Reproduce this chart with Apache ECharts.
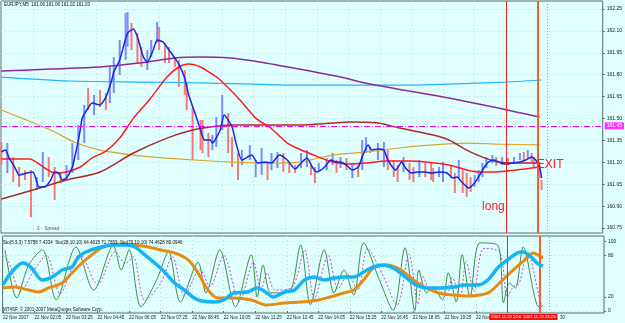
<!DOCTYPE html>
<html>
<head>
<meta charset="utf-8">
<script src="https://cdn.jsdelivr.net/npm/echarts@6/dist/echarts.min.js"></script>
<style>
  html, body { margin: 0; padding: 0; background: #e0ffff; }
  #chart { width: 625px; height: 323px; }
</style>
</head>
<body>
<div id="chart"></div>
<script>
// time axis: minutes since 00:00, 22 Nov 2007, M5 bars
const timeTicks = [45, 125, 205, 285, 365, 445, 525, 605, 685, 765, 845, 925, 1005, 1085, 1165, 1245];
const timeLabels = ['22 Nov 2007', '22 Nov 02:05', '22 Nov 03:25', '22 Nov 04:45', '22 Nov 06:05',
  '22 Nov 07:25', '22 Nov 08:45', '22 Nov 10:05', '22 Nov 11:25', '22 Nov 12:45', '22 Nov 14:05',
  '22 Nov 15:25', '22 Nov 16:45', '22 Nov 18:05', '22 Nov 19:25', '22 Nov 20:45'];
const priceTicks = [160.75, 160.90, 161.05, 161.20, 161.35, 161.50, 161.65, 161.80, 161.95, 162.10, 162.25];
const stoTicks = [0, 20, 80, 100];

// entry / exit markers (minutes) and their labels
const tradeLines = [1325, 1406];
const tradeLabels = ['2007.11.22 22:05', '2007.11.22 23:25'];
const shiftLine = 1430;
const levelLine = 161.45;
const lastPrice = 161.03;

// price bars: [time, high, low, up?]
const priceBars = [
  [45,161.339,161.181,0],[60,161.332,161.127,1],[75,161.236,161.065,0],[90,161.168,161.031,0],
  [105,161.147,161.079,0],[120,161.147,160.825,0],[135,161.099,161.010,1],[150,161.271,161.065,1],
  [165,161.236,161.099,0],[180,161.168,160.942,0],[195,161.127,161.058,0],[210,161.181,161.079,1],
  [225,161.332,161.127,1],[240,161.456,161.216,1],[255,161.593,161.332,1],[265,161.709,161.558,0],
  [280,161.661,161.524,1],[295,161.695,161.579,0],[310,161.675,161.558,0],[320,161.853,161.606,1],
  [330,161.921,161.675,1],[345,162.038,161.798,1],[360,162.223,161.901,1],[365,162.229,161.990,1],
  [375,162.154,161.969,0],[390,162.085,161.880,0],[400,161.990,161.853,0],[415,161.969,161.832,1],
  [425,162.038,161.921,1],[440,162.161,162.017,1],[445,162.127,161.969,0],[460,162.017,161.880,0],
  [470,161.990,161.880,0],[485,161.921,161.853,0],[495,161.901,161.716,0],[510,161.832,161.661,0],
  [515,161.743,161.558,0],[530,161.579,161.216,0],[550,161.490,161.284,0],[555,161.490,161.264,0],
  [570,161.401,161.236,0],[580,161.387,161.284,1],[590,161.510,161.305,1],[605,161.661,161.421,1],
  [620,161.538,161.264,0],[630,161.373,161.168,0],[645,161.264,161.079,0],[655,161.284,161.181,1],
  [675,161.318,161.216,1],[690,161.216,161.099,1],[705,161.298,161.113,1],[720,161.202,161.079,0],
  [730,161.264,161.147,1],[745,161.271,161.161,1],[760,161.264,161.134,0],[775,161.195,161.127,0],
  [790,161.181,161.127,0],[805,161.264,161.161,1],[820,161.284,161.168,1],[830,161.181,161.113,0],
  [840,161.168,161.058,0],[850,161.195,161.134,1],[870,161.229,161.147,1],[885,161.264,161.181,1],
  [895,161.216,161.127,0],[905,161.236,161.161,1],[920,161.229,161.147,0],[935,161.195,161.092,1],
  [950,161.181,161.099,0],[960,161.353,161.147,1],[970,161.373,161.264,1],[980,161.305,161.264,0],
  [1000,161.332,161.216,1],[1015,161.339,161.168,1],[1025,161.284,161.147,0],[1040,161.216,161.099,0],
  [1050,161.181,161.065,0],[1065,161.236,161.134,1],[1080,161.195,161.079,0],[1090,161.168,161.065,0],
  [1105,161.216,161.099,1],[1120,161.195,161.099,0],[1135,161.195,161.079,0],[1140,161.161,161.065,0],
  [1155,161.168,161.099,1],[1165,161.202,161.065,1],[1185,161.181,161.092,0],[1195,161.127,160.990,0],
  [1205,161.216,161.092,1],[1215,161.147,160.990,0],[1225,161.127,160.962,0],[1235,161.099,160.997,0],
  [1245,161.113,161.031,1],[1255,161.147,161.065,1],[1265,161.195,161.099,1],[1275,161.236,161.161,1],
  [1290,161.250,161.195,1],[1300,161.236,161.175,0],[1315,161.236,161.181,1],[1330,161.229,161.181,0],
  [1345,161.236,161.202,1],[1360,161.264,161.216,1],[1370,161.271,161.216,0],[1380,161.284,161.229,1],
  [1390,161.264,161.202,0],[1395,161.236,161.168,0],[1410,161.202,161.092,0],[1415,161.079,161.010,0]
];

// moving averages: [time, price]
const blueMA = [
  [45,161.271],[55,161.284],[65,161.229],[80,161.161],[90,161.113],[110,161.127],[125,161.134],
  [135,161.065],[140,161.031],[155,161.031],[170,161.079],[180,161.134],[190,161.127],[200,161.079],
  [210,161.092],[225,161.168],[235,161.284],[245,161.421],[250,161.503],[265,161.572],[275,161.606],
  [295,161.593],[310,161.647],[325,161.764],[330,161.818],[345,161.901],[365,162.085],[380,162.113],
  [390,162.058],[405,161.921],[415,161.887],[430,161.969],[440,162.038],[455,162.024],[470,161.969],
  [485,161.914],[495,161.873],[510,161.777],[520,161.661],[535,161.545],[550,161.421],[560,161.353],
  [575,161.353],[580,161.332],[600,161.421],[610,161.524],[630,161.442],[640,161.332],[655,161.216],
  [680,161.250],[695,161.195],[715,161.202],[730,161.195],[750,161.250],[770,161.216],[790,161.154],
  [800,161.181],[820,161.229],[835,161.161],[845,161.134],[865,161.168],[880,161.216],[895,161.202],
  [905,161.202],[920,161.181],[935,161.147],[950,161.168],[960,161.236],[975,161.318],[985,161.284],
  [1000,161.291],[1015,161.284],[1025,161.216],[1045,161.147],[1060,161.202],[1070,161.161],
  [1085,161.127],[1100,161.134],[1120,161.134],[1135,161.127],[1155,161.134],[1175,161.127],
  [1190,161.092],[1200,161.099],[1215,161.058],[1230,161.024],[1245,161.058],[1255,161.099],
  [1270,161.168],[1280,161.202],[1295,161.216],[1305,161.202],[1325,161.188],[1340,161.195],
  [1360,161.202],[1375,161.216],[1390,161.236],[1400,161.216],[1410,161.168],[1415,161.092]
];
const redMA = [
  [45,161.223],[115,161.223],[155,161.161],[180,161.127],[210,161.134],[245,161.168],[275,161.230],
  [310,161.277],[345,161.366],[380,161.503],[420,161.627],[465,161.784],[495,161.853],[520,161.873],
  [550,161.853],[575,161.812],[600,161.764],[650,161.627],[690,161.503],[725,161.442],[770,161.332],
  [800,161.291],[850,161.236],[885,161.202],[925,161.188],[970,161.195],[1020,161.209],[1080,161.209],
  [1120,161.202],[1180,161.181],[1255,161.134],[1300,161.134],[1350,161.147],[1410,161.168]
];
const darkRedMA = [
  [45,160.949],[125,161.010],[210,161.079],[295,161.134],[380,161.264],[465,161.366],[530,161.421],
  [575,161.442],[630,161.456],[800,161.456],[885,161.469],[925,161.476],[1000,161.469],[1055,161.435],
  [1140,161.387],[1180,161.353],[1225,161.284],[1265,161.236],[1305,161.202],[1350,161.195],[1410,161.195]
];
const orangeMA = [
  [45,161.558],[90,161.510],[170,161.421],[235,161.332],[295,161.284],[380,161.250],[465,161.229],
  [575,161.209],[630,161.202],[715,161.195],[800,161.202],[885,161.250],[970,161.271],[1055,161.298],
  [1140,161.319],[1225,161.332],[1305,161.325],[1410,161.319]
];
const purpleMA = [
  [45,161.825],[170,161.839],[295,161.853],[395,161.880],[485,161.914],[550,161.921],[625,161.914],
  [700,161.887],[800,161.839],[905,161.784],[980,161.736],[1080,161.688],[1180,161.640],[1305,161.572],
  [1410,161.510]
];
const cyanMA = [
  [45,161.784],[220,161.757],[420,161.750],[575,161.743],[800,161.729],[1080,161.729],[1180,161.736],
  [1325,161.750],[1415,161.764]
];

// stochastics: [time, value]
const sto5Main = [
  [50,88],[80,19],[110,66],[145,88],[180,16],[230,92],[275,30],[325,94],[345,59],[365,88],[395,6],
  [435,45],[465,85],[495,13],[540,70],[560,26],[595,88],[635,6],[675,81],[690,20],[705,66],[725,26],
  [770,27],[800,95],[825,9],[860,88],[885,26],[910,59],[935,23],[960,98],[1000,45],[1035,1],[1065,91],
  [1090,0.5],[1100,59],[1120,26],[1135,35],[1160,16],[1175,55],[1195,13],[1210,81],[1230,20],
  [1255,98],[1300,95],[1315,12],[1330,40],[1345,33],[1365,92],[1405,6],[1415,7.6]
];
const sto5Signal = [
  [45,80],[60,70],[90,28],[120,55],[155,80],[190,25],[240,82],[285,38],[330,85],[355,68],[375,78],
  [405,15],[445,40],[475,78],[505,22],[545,60],[570,35],[605,80],[645,14],[680,70],[700,30],[715,55],
  [735,30],[780,35],[810,88],[835,18],[870,80],[895,32],[920,52],[945,30],[970,90],[1010,50],[1045,8],
  [1075,82],[1098,10],[1110,50],[1130,30],[1145,32],[1170,22],[1185,48],[1205,20],[1220,72],[1240,28],
  [1265,90],[1305,85],[1325,20],[1340,35],[1355,40],[1375,85],[1410,10],[1415,7.4]
];
const sto28Main = [
  [45,37.4],[65,54.7],[95,69],[115,63.3],[145,44.6],[170,48.9],[195,59],[220,63.3],[235,76.3],
  [250,83.5],[285,90.6],[320,95],[355,95],[380,92.1],[405,80.6],[430,69],[455,56.1],[480,40.3],
  [505,30.2],[530,18.7],[550,14.4],[580,12.9],[605,15.8],[630,25.9],[665,27.3],[690,33.1],[715,25.9],
  [730,20.1],[760,27.3],[785,30.2],[810,44.6],[835,48.9],[860,44.6],[885,47.5],[910,48.9],[935,48.9],
  [960,56.1],[985,63.3],[1010,66.2],[1035,61.9],[1060,51.8],[1085,40.3],[1120,33.1],[1155,33.1],
  [1190,34.5],[1215,37.4],[1250,37.4],[1275,44.6],[1300,61.9],[1325,73.4],[1350,83.5],[1365,84.9],
  [1385,77.7],[1400,69],[1415,64.5]
];
const sto28Signal = [
  [45,40],[95,55],[145,58],[195,52],[245,62],[295,80],[345,90],[395,93],[445,85],[495,65],[545,40],
  [595,22],[645,17],[695,22],[745,25],[795,27],[845,38],[895,45],[945,48],[995,55],[1045,60],[1095,52],
  [1145,42],[1195,36],[1245,36],[1295,44],[1345,62],[1395,78],[1415,71.8]
];
const sto70Main = [
  [45,33.1],[75,34.5],[110,30.2],[135,27.3],[160,33.1],[195,40.3],[220,54.7],[245,69],[270,80.6],
  [295,90.6],[320,95],[345,96.4],[380,95],[415,92.1],[445,87.8],[480,83.5],[515,73.4],[540,54.7],
  [565,30.2],[590,18.7],[630,18.7],[675,15.8],[715,8.6],[760,11.5],[800,12.9],[845,15.8],[875,20.1],
  [910,25.9],[935,30.2],[960,44.6],[985,61.9],[1020,66.2],[1055,59],[1080,47.5],[1105,37.4],
  [1150,25.9],[1190,23],[1225,21.6],[1255,23],[1280,27.3],[1305,40.3],[1340,59],[1375,76.3],
  [1390,83.5],[1415,76]
];
const sto70Signal = [
  [45,36],[145,30],[245,45],[295,62],[345,82],[395,92],[445,93],[495,88],[545,78],[595,55],[645,35],
  [695,22],[745,14],[795,11],[845,12],[895,16],[945,21],[995,32],[1045,50],[1095,58],[1145,45],
  [1195,32],[1245,24],[1295,24],[1345,40],[1395,66],[1415,80]
];

const notes = [
  { text: 'EXIT', t: 1403, p: 161.181 },
  { text: 'long', t: 1264, p: 160.894 }
];

const FONT = 'Liberation Sans';
const frame = '#5b6b6b';
const gridLine = { show: true, lineStyle: { color: '#c6d6d6', type: [1, 3], width: 1 } };

const chart = echarts.init(document.getElementById('chart'));

function maLine(data, color, width) {
  return {
    type: 'line', xAxisIndex: 0, yAxisIndex: 0, data: data, showSymbol: false, smooth: 0.3,
    lineStyle: { color: color, width: width }, silent: true, z: 3
  };
}
function stoLine(data, color, width, type, z) {
  return {
    type: 'line', xAxisIndex: 1, yAxisIndex: 1, data: data, showSymbol: false, smooth: 0.3,
    lineStyle: { color: color, width: width, type: type || 'solid' }, silent: true, z: z || 3
  };
}

const option = {
  animation: false,
  backgroundColor: '#e0ffff',
  textStyle: { fontFamily: FONT },
  grid: [
    { left: 1, right: 21, top: 1, height: 232, show: true, borderColor: frame, borderWidth: 1 },
    { left: 1, right: 21, top: 236, height: 77, show: true, borderColor: frame, borderWidth: 1 }
  ],
  xAxis: [
    {
      type: 'value', gridIndex: 0, min: 44, max: 1570,
      axisLine: { show: false },
      axisTick: { show: true, length: 0, customValues: timeTicks },
      axisLabel: { show: false, customValues: timeTicks },
      splitLine: gridLine
    },
    {
      type: 'value', gridIndex: 1, min: 44, max: 1570,
      axisLine: { show: false },
      axisTick: { show: true, length: 2, customValues: timeTicks, lineStyle: { color: frame } },
      axisLabel: {
        customValues: timeTicks, formatter: v => timeLabels[timeTicks.indexOf(v)],
        align: 'left', fontSize: 4.5, color: '#202020', margin: 2, fontFamily: FONT
      },
      splitLine: gridLine
    }
  ],
  yAxis: [
    {
      type: 'value', gridIndex: 0, position: 'right', min: 160.716, max: 162.305,
      axisLine: { show: false },
      axisTick: { show: true, length: 2, customValues: priceTicks, lineStyle: { color: frame } },
      axisLabel: { customValues: priceTicks, formatter: v => v.toFixed(2), fontSize: 5, color: '#202020', margin: 4, fontFamily: FONT },
      splitLine: gridLine
    },
    {
      type: 'value', gridIndex: 1, position: 'right', min: -2.9, max: 107.9,
      axisLine: { show: false },
      axisTick: { show: true, length: 2, customValues: stoTicks, lineStyle: { color: frame } },
      axisLabel: { customValues: stoTicks, fontSize: 5, color: '#202020', margin: 4, fontFamily: FONT },
      splitLine: gridLine
    }
  ],
  series: [
    {
      type: 'custom', xAxisIndex: 0, yAxisIndex: 0, data: priceBars, silent: true, z: 2,
      encode: { x: 0, y: [1, 2] },
      renderItem: function (params, api) {
        const a = api.coord([api.value(0), api.value(1)]);
        const b = api.coord([api.value(0), api.value(2)]);
        return {
          type: 'line',
          shape: { x1: a[0], y1: a[1], x2: b[0], y2: b[1] },
          style: { stroke: api.value(3) ? '#7a8aff' : '#f47a7a', lineWidth: 2 }
        };
      },
      markLine: {
        symbol: 'none', silent: true, animation: false,
        label: { show: false },
        data: [
          { xAxis: tradeLines[0], lineStyle: { color: '#ff2020', width: 1, type: 'solid' } },
          { xAxis: tradeLines[1], lineStyle: { color: '#ff5a2a', width: 2, type: 'solid' } },
          { xAxis: shiftLine, lineStyle: { color: '#98a8a8', width: 1, type: [1, 2] } },
          {
            yAxis: levelLine, lineStyle: { color: '#ff00ff', width: 1, type: [6, 2, 1, 2] },
            label: { show: true, position: 'end', distance: 2, formatter: levelLine.toFixed(2), fontSize: 5,
              color: '#ffffff', backgroundColor: '#ff33ff', padding: [1, 2], fontFamily: FONT }
          },
          {
            yAxis: lastPrice, lineStyle: { opacity: 0 },
            label: { show: true, position: 'end', distance: 2, formatter: lastPrice.toFixed(2), fontSize: 5,
              color: '#ffffff', backgroundColor: '#0c1060', padding: [1, 2], fontFamily: FONT }
          }
        ]
      },
      markPoint: {
        symbol: 'circle', symbolSize: 0, silent: true, animation: false,
        data: notes.map(n => ({
          coord: [n.t, n.p],
          label: { show: true, formatter: n.text, position: 'right', distance: 0, fontSize: 12,
            color: '#ff2020', fontFamily: FONT }
        }))
      }
    },
    maLine(orangeMA, '#e0a528', 1.2),
    maLine(darkRedMA, '#b02828', 1.5),
    maLine(cyanMA, '#22b4ff', 1.2),
    maLine(purpleMA, '#8c2a9c', 1.5),
    maLine(redMA, '#ff1c1c', 1.5),
    Object.assign(maLine(blueMA, '#1a24e6', 1.5), { smooth: 0.2, z: 4 }),

    stoLine(sto28Signal, '#a8e4f4', 1, [1, 2], 2),
    stoLine(sto70Signal, '#f4cf98', 1, [1, 2], 2),
    stoLine(sto5Signal, '#c048d8', 1, [2, 2], 3),
    Object.assign(stoLine(sto5Main, '#3f8f46', 1, 'solid', 3), {
      markLine: {
        symbol: 'none', silent: true, animation: false,
        data: [
          { xAxis: tradeLines[0], lineStyle: { color: '#ff2020', width: 1, type: 'solid' },
            label: { show: true, position: 'start', distance: 1, formatter: tradeLabels[0], fontSize: 4.2,
              color: '#ffffff', backgroundColor: '#ff1010', padding: [1, 2], fontFamily: FONT } },
          { xAxis: tradeLines[1], lineStyle: { color: '#ff5a2a', width: 2, type: 'solid' },
            label: { show: true, position: 'start', distance: 1, formatter: tradeLabels[1], fontSize: 4.2,
              color: '#ffffff', backgroundColor: '#ff1010', padding: [1, 2], fontFamily: FONT } },
          { xAxis: shiftLine, lineStyle: { color: '#98a8a8', width: 1, type: [1, 2] }, label: { show: false } }
        ]
      }
    }),
    stoLine(sto70Main, '#e48c14', 3, 'solid', 4),
    stoLine(sto28Main, '#16b4f4', 3.5, 'solid', 5)
  ],
  graphic: [
    { type: 'text', left: 4, top: 2, z: 10, style: { text: 'EURJPY,M5  161.06 161.06 161.02 161.03', fontSize: 4.5, fill: '#101010', fontFamily: FONT } },
    { type: 'text', left: 37, top: 226, z: 10, style: { text: '3    Spread:', fontSize: 4.5, fill: '#606060', fontFamily: FONT } },
    { type: 'text', left: 3, top: 240, z: 10, style: { text: 'Sto(5,3,3) 7.5758 7.4334  Sto(28,10,10) 64.4615 71.7653  Sto(70,10,10) 74.4628 80.0946', fontSize: 4.5, fill: '#101010', fontFamily: FONT } },
    { type: 'text', left: 3, top: 307, z: 10, style: { text: 'MT4SF, \u00a9 2001-2007 MetaQuotes Software Corp.', fontSize: 4.5, fill: '#101010', fontFamily: FONT } },
    { type: 'text', left: 560, top: 315, z: 10, style: { text: '30', fontSize: 4.5, fill: '#202020', fontFamily: FONT } }
  ]
};

chart.setOption(option);
</script>
</body>
</html>
